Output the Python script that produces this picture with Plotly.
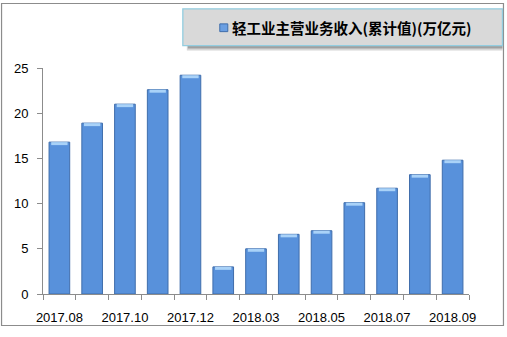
import plotly.graph_objects as go

categories = ["2017.08", "2017.09", "2017.10", "2017.11", "2017.12",
              "2018.02", "2018.03", "2018.04", "2018.05", "2018.06",
              "2018.07", "2018.08", "2018.09"]
revenue = [16.8, 18.9, 21.0, 22.6, 24.2, 3.0, 5.0, 6.6, 7.0, 10.1, 11.7, 13.2, 14.8]
series_name = "轻工业主营业务收入(累计值)(万亿元)"
y_ticks = [0, 5, 10, 15, 20, 25]
label_every = 2

W, H = 507, 337
L, R, T, B = 43, 469.5, 68, 301  # plot area in pixels


def px(x):
    return (x - L) / (R - L)


def py(y):
    return (B - y) / (B - T)


idx = list(range(len(categories)))
cap = 0.33

fig = go.Figure()
fig.add_trace(go.Bar(
    x=idx, y=revenue, width=0.63,
    marker=dict(color="#5891db", line=dict(color="#3f6dab", width=1)),
    name=series_name, showlegend=False,
    hovertemplate="%{customdata}: %{y}<extra></extra>",
    customdata=categories,
))
fig.add_trace(go.Bar(
    x=idx, y=[cap] * len(revenue), base=[v - cap for v in revenue], width=0.5,
    marker=dict(color="#a9d2f8", line=dict(width=0)),
    showlegend=False, hoverinfo="skip",
))

shapes = [
    # outer chart border
    dict(type="rect", xref="paper", yref="paper",
         x0=px(1.5), x1=px(504), y0=py(333.5), y1=py(1.5),
         line=dict(color="#8c8c8c", width=1.2), fillcolor="rgba(0,0,0,0)", layer="below"),
    # legend shadow
    dict(type="rect", xref="paper", yref="paper",
         x0=px(187), x1=px(503), y0=py(50), y1=py(44),
         line=dict(width=0), fillcolor="rgba(90,90,90,0.25)"),
    dict(type="rect", xref="paper", yref="paper",
         x0=px(188), x1=px(503), y0=py(48), y1=py(44),
         line=dict(width=0), fillcolor="rgba(60,60,60,0.35)"),
    # legend box
    dict(type="rect", xref="paper", yref="paper",
         x0=px(183), x1=px(503), y0=py(45), y1=py(7),
         line=dict(color="#93cde0", width=1.3), fillcolor="#d9d9d9"),
    # legend marker
    dict(type="rect", xref="paper", yref="paper",
         x0=px(220), x1=px(228), y0=py(30.5), y1=py(22.5),
         line=dict(color="#3f6dab", width=1), fillcolor="#6b9fe2"),
]

annotations = [
    dict(text="<b>" + series_name + "</b>", xref="paper", yref="paper",
         x=px(230), y=py(26.5), xanchor="left", yanchor="middle", showarrow=False,
         font=dict(family="Noto Sans CJK SC", size=14.5, color="#000000")),
]

fig.update_layout(
    width=W, height=H,
    margin=dict(l=L, r=W - R, t=T, b=H - B, pad=0),
    paper_bgcolor="white", plot_bgcolor="white",
    barmode="overlay",
    showlegend=False,
    font=dict(family="Liberation Sans, Arial, sans-serif", size=13, color="#000000"),
    shapes=shapes, annotations=annotations,
    xaxis=dict(
        range=[-0.5, len(categories) - 0.5],
        tickmode="array",
        tickvals=idx[::label_every],
        ticktext=categories[::label_every],
        ticks="", showgrid=False, zeroline=False,
        showline=True, linecolor="#8c8c8c", linewidth=1,
        minor=dict(ticks="outside", tick0=0.5, dtick=1, ticklen=5,
                   tickcolor="#8c8c8c", tickwidth=1, showgrid=False),
        ticklabelstandoff=11,
        fixedrange=True,
    ),
    yaxis=dict(
        range=[0, 25],
        tickmode="array", tickvals=y_ticks,
        ticks="outside", ticklen=5, tickcolor="#8c8c8c", tickwidth=1,
        showgrid=False, zeroline=False,
        showline=True, linecolor="#8c8c8c", linewidth=1,
        ticklabelstandoff=6,
        fixedrange=True,
    ),
)

fig.write_html("out.html", config={"displayModeBar": False})
